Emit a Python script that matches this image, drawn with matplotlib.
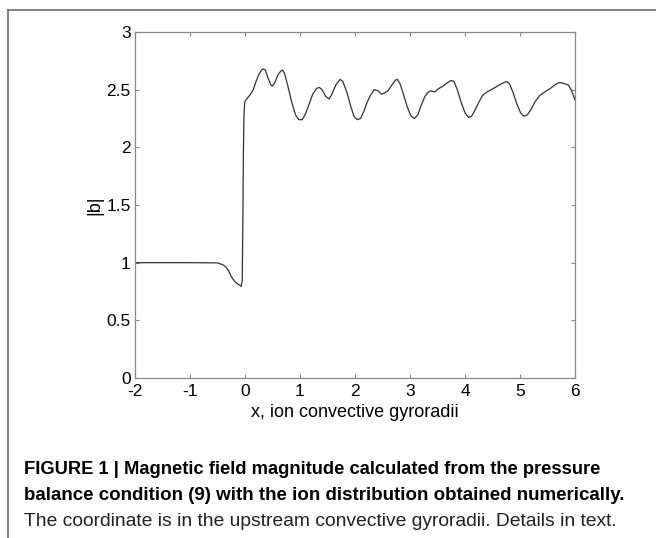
import matplotlib
matplotlib.use("Agg")
import matplotlib.pyplot as plt
from matplotlib.lines import Line2D

# ---- data ----
x_vals = [-2.0, -1.5, -1.0, -0.5, -0.45, -0.4, -0.35, -0.3, -0.25, -0.2, -0.15, -0.1, -0.07,
          -0.05, -0.04, -0.03, -0.02, -0.01, 0.0, 0.05, 0.1, 0.15, 0.2, 0.25, 0.3, 0.33, 0.37,
          0.42, 0.47, 0.5, 0.55, 0.6, 0.65, 0.68, 0.72, 0.78, 0.85, 0.92, 0.98, 1.04, 1.1,
          1.17, 1.23, 1.3, 1.35, 1.4, 1.47, 1.53, 1.58, 1.65, 1.73, 1.78, 1.85, 1.92, 1.98,
          2.04, 2.1, 2.16, 2.22, 2.28, 2.35, 2.42, 2.48, 2.53, 2.6, 2.67, 2.73, 2.77, 2.82,
          2.88, 2.95, 3.02, 3.08, 3.14, 3.2, 3.27, 3.33, 3.38, 3.45, 3.52, 3.6, 3.68, 3.75,
          3.8, 3.86, 3.93, 4.0, 4.06, 4.12, 4.18, 4.25, 4.32, 4.4, 4.48, 4.55, 4.62, 4.7,
          4.76, 4.81, 4.87, 4.94, 5.01, 5.07, 5.13, 5.2, 5.28, 5.36, 5.45, 5.55, 5.63, 5.7,
          5.75, 5.82, 5.88, 5.94, 6.0]
b_vals = [1.0, 1.0, 1.0, 0.998, 0.99, 0.98, 0.965, 0.93, 0.88, 0.845, 0.82, 0.805, 0.795,
          0.85, 1.3, 1.9, 2.25, 2.36, 2.40, 2.43, 2.46, 2.50, 2.57, 2.63, 2.67, 2.68, 2.67,
          2.60, 2.54, 2.53, 2.57, 2.63, 2.66, 2.67, 2.64, 2.53, 2.39, 2.28, 2.24, 2.24, 2.29,
          2.38, 2.46, 2.51, 2.52, 2.50, 2.44, 2.42, 2.46, 2.54, 2.59, 2.57, 2.48, 2.36, 2.27,
          2.24, 2.25, 2.31, 2.39, 2.45, 2.50, 2.49, 2.46, 2.47, 2.49, 2.54, 2.58, 2.59, 2.55,
          2.46, 2.35, 2.27, 2.25, 2.28, 2.36, 2.44, 2.48, 2.49, 2.48, 2.51, 2.53, 2.56, 2.58,
          2.57, 2.50, 2.39, 2.30, 2.26, 2.27, 2.32, 2.39, 2.45, 2.48, 2.50, 2.52, 2.54, 2.56,
          2.57, 2.55, 2.48, 2.38, 2.30, 2.27, 2.28, 2.33, 2.40, 2.45, 2.48, 2.51, 2.54, 2.56,
          2.56, 2.55, 2.54, 2.49, 2.41]

x_ticks = [-2, -1, 0, 1, 2, 3, 4, 5, 6]
x_ticklabels = ["-2", "-1", "0", "1", "2", "3", "4", "5", "6"]
y_ticks = [0, 0.5, 1, 1.5, 2, 2.5, 3]
y_ticklabels = ["0", "0.5", "1", "1.5", "2", "2.5", "3"]

x_label = "x, ion convective gyroradii"
y_label = "|b|"
caption_bold_1 = "FIGURE 1 | Magnetic field magnitude calculated from the pressure"
caption_bold_2 = "balance condition (9) with the ion distribution obtained numerically."
caption_normal = "The coordinate is in the upstream convective gyroradii. Details in text."

# ---- figure ----
W, H = 656, 538
fig = plt.figure(figsize=(W / 100, H / 100), dpi=100)
fig.patch.set_facecolor("white")

tick_font = ["Liberation Sans", "DejaVu Sans"]
cap_font = ["Liberation Sans Narrow", "Liberation Sans", "DejaVu Sans"]

ax_l, ax_r, ax_t, ax_b = 135, 575, 32, 378
ax = fig.add_axes([ax_l / W, 1 - ax_b / H, (ax_r - ax_l) / W, (ax_b - ax_t) / H])
ax.plot(x_vals, b_vals, color="#333333", linewidth=0.9)
ax.set_xlim(-2, 6)
ax.set_ylim(0, 3)
ax.set_xticks(x_ticks)
ax.set_xticklabels(x_ticklabels, fontfamily=tick_font, fontsize=12.5)
ax.set_yticks(y_ticks)
ax.set_yticklabels(y_ticklabels, fontfamily=tick_font, fontsize=12.5)
ax.tick_params(direction="in", length=3, width=0.8, color="#888888",
               top=True, right=True, labelcolor="black")
ax.tick_params(axis="x", pad=4)
ax.tick_params(axis="y", pad=3)
for s in ax.spines.values():
    s.set_color("#888888")
    s.set_linewidth(0.9)
ax.set_xlabel(x_label, fontfamily=tick_font, fontsize=13, labelpad=4)
ax.set_ylabel(y_label, fontfamily=tick_font, fontsize=13, labelpad=2)

# frame lines of the figure panel
fx = 8 / W
fy = 1 - 10 / H
fig.add_artist(Line2D([fx, 1.0], [fy, fy], transform=fig.transFigure,
                      color="#777777", linewidth=1.3))
fig.add_artist(Line2D([fx, fx], [0, fy], transform=fig.transFigure,
                      color="#777777", linewidth=1.3))

# caption
cx = 24 / W
fig.text(cx, 1 - 470 / H, caption_bold_1, fontfamily=cap_font, fontweight="bold",
         fontsize=13.2, va="center", ha="left")
fig.text(cx, 1 - 495 / H, caption_bold_2, fontfamily=cap_font, fontweight="bold",
         fontsize=13.5, va="center", ha="left")
fig.text(cx, 1 - 521 / H, caption_normal, fontfamily=cap_font, fontweight="normal",
         fontsize=13.9, va="center", ha="left", color="#222222")

fig.savefig("out.png", dpi=100, facecolor="white")
